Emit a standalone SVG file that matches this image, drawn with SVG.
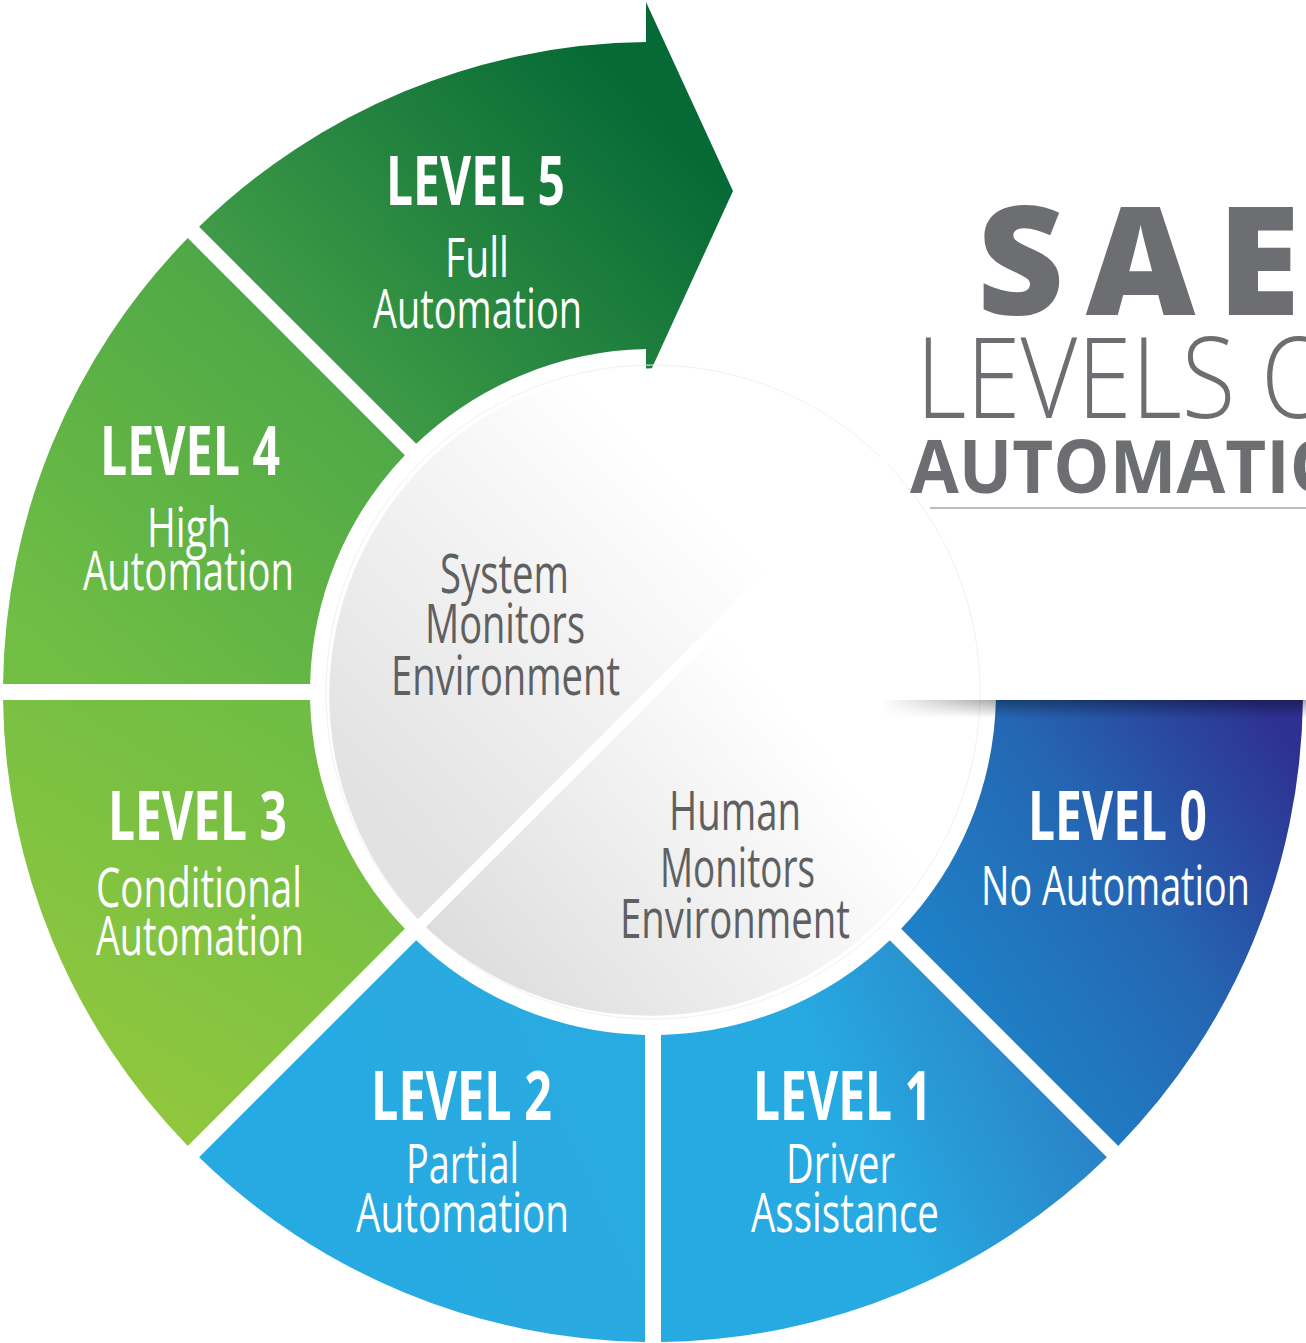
<svg xmlns="http://www.w3.org/2000/svg" width="1306" height="1343" viewBox="0 0 1306 1343">
  <style>
    .lvl { font-family: "Open Sans", "Noto Sans", sans-serif; font-weight: 700; font-size: 68px; fill: #ffffff; }
    .sub { font-family: "Open Sans", "Noto Sans", sans-serif; font-weight: 400; font-size: 54px; fill: #ffffff; }
    .ctr { font-family: "Open Sans", "Noto Sans", sans-serif; font-weight: 400; font-size: 54px; fill: #5f6062; }
    .ttl { font-family: "Open Sans", "Noto Sans", sans-serif; fill: #6d6e71; }
  </style>
  <defs>
    <linearGradient id="g5" gradientUnits="userSpaceOnUse" x1="300" y1="420" x2="640" y2="100">
      <stop offset="0" stop-color="#47a249"/>
      <stop offset="1" stop-color="#066a36"/>
    </linearGradient>
    <linearGradient id="g4" gradientUnits="userSpaceOnUse" x1="350" y1="300" x2="50" y2="650">
      <stop offset="0" stop-color="#4aa547"/>
      <stop offset="1" stop-color="#70be44"/>
    </linearGradient>
    <linearGradient id="g3" gradientUnits="userSpaceOnUse" x1="380" y1="720" x2="150" y2="1100">
      <stop offset="0" stop-color="#6cbc45"/>
      <stop offset="1" stop-color="#8fc73e"/>
    </linearGradient>
    <linearGradient id="g2" gradientUnits="userSpaceOnUse" x1="200" y1="1200" x2="650" y2="1000">
      <stop offset="0" stop-color="#27a9e1"/>
      <stop offset="1" stop-color="#29abe2"/>
    </linearGradient>
    <linearGradient id="g1" gradientUnits="userSpaceOnUse" x1="850" y1="1120" x2="1110" y2="1000">
      <stop offset="0" stop-color="#27a9e1"/>
      <stop offset="1" stop-color="#2b76bd"/>
    </linearGradient>
    <linearGradient id="g0" gradientUnits="userSpaceOnUse" x1="950" y1="1000" x2="1300" y2="760">
      <stop offset="0" stop-color="#1e82c8"/>
      <stop offset="0.5" stop-color="#2566b2"/>
      <stop offset="1" stop-color="#2e3192"/>
    </linearGradient>
    <linearGradient id="gUp" gradientUnits="userSpaceOnUse" x1="330" y1="760" x2="650" y2="450">
      <stop offset="0" stop-color="#e2e2e2"/>
      <stop offset="1" stop-color="#ffffff"/>
    </linearGradient>
    <linearGradient id="gLo" gradientUnits="userSpaceOnUse" x1="470" y1="1000" x2="800" y2="720">
      <stop offset="0" stop-color="#dcdcdc"/>
      <stop offset="1" stop-color="#ffffff"/>
    </linearGradient>
    <linearGradient id="shV" x1="0" y1="0" x2="0" y2="1">
      <stop offset="0" stop-color="#000000" stop-opacity="0.35"/>
      <stop offset="1" stop-color="#000000" stop-opacity="0"/>
    </linearGradient>
    <linearGradient id="shH" gradientUnits="userSpaceOnUse" x1="880" y1="0" x2="1000" y2="0">
      <stop offset="0" stop-color="#ffffff" stop-opacity="0"/>
      <stop offset="1" stop-color="#ffffff" stop-opacity="1"/>
    </linearGradient>
    <mask id="shMask" maskUnits="userSpaceOnUse" x="0" y="0" width="1306" height="1343">
      <rect x="880" y="700" width="426" height="18" fill="url(#shH)"/>
    </mask>
  </defs>

  <rect x="0" y="0" width="1306" height="1343" fill="#ffffff"/>

  <g id="level-5">
    <path d="M199.07,226.76 A650,650 0 0 1 646,42.04 L646,2 L733,191 L646,381 L646,349.07 A343,343 0 0 0 416.18,443.87 Z" fill="url(#g5)"/>
    <text class="lvl" x="386" y="205" textLength="179" lengthAdjust="spacingAndGlyphs">LEVEL 5</text>
    <text class="sub" x="445" y="277" textLength="64" lengthAdjust="spacingAndGlyphs">Full</text>
    <text class="sub" x="373" y="328" textLength="209" lengthAdjust="spacingAndGlyphs">Automation</text>
  </g>

  <g id="level-4">
    <path d="M3.05,684 A650,650 0 0 1 187.76,238.07 L404.87,455.18 A343,343 0 0 0 310.09,684 Z" fill="url(#g4)"/>
    <text class="lvl" x="100" y="475" textLength="180" lengthAdjust="spacingAndGlyphs">LEVEL 4</text>
    <text class="sub" x="147" y="547" textLength="84" lengthAdjust="spacingAndGlyphs">High</text>
    <text class="sub" x="83" y="590" textLength="211" lengthAdjust="spacingAndGlyphs">Automation</text>
  </g>

  <g id="level-3">
    <path d="M187.76,1145.93 A650,650 0 0 1 3.05,700 L310.09,700 A343,343 0 0 0 404.87,928.82 Z" fill="url(#g3)"/>
    <text class="lvl" x="108" y="840" textLength="179" lengthAdjust="spacingAndGlyphs">LEVEL 3</text>
    <text class="sub" x="96" y="907" textLength="206" lengthAdjust="spacingAndGlyphs">Conditional</text>
    <text class="sub" x="96" y="955" textLength="208" lengthAdjust="spacingAndGlyphs">Automation</text>
  </g>

  <g id="level-2">
    <path d="M645,1341.95 A650,650 0 0 1 199.07,1157.24 L416.18,940.13 A343,343 0 0 0 645,1034.91 Z" fill="url(#g2)"/>
    <text class="lvl" x="371" y="1120" textLength="181" lengthAdjust="spacingAndGlyphs">LEVEL 2</text>
    <text class="sub" x="406" y="1183" textLength="113" lengthAdjust="spacingAndGlyphs">Partial</text>
    <text class="sub" x="356" y="1232" textLength="213" lengthAdjust="spacingAndGlyphs">Automation</text>
  </g>

  <g id="level-1">
    <path d="M1106.93,1157.24 A650,650 0 0 1 661,1341.95 L661,1034.91 A343,343 0 0 0 889.82,940.13 Z" fill="url(#g1)"/>
    <text class="lvl" x="753" y="1120" textLength="179" lengthAdjust="spacingAndGlyphs">LEVEL 1</text>
    <text class="sub" x="786" y="1183" textLength="109" lengthAdjust="spacingAndGlyphs">Driver</text>
    <text class="sub" x="751" y="1232" textLength="188" lengthAdjust="spacingAndGlyphs">Assistance</text>
  </g>

  <g id="level-0">
    <path d="M1302.95,700 A650,650 0 0 1 1118.24,1145.93 L901.13,928.82 A343,343 0 0 0 995.91,700 Z" fill="url(#g0)"/>
    <text class="lvl" x="1028" y="840" textLength="179" lengthAdjust="spacingAndGlyphs">LEVEL 0</text>
    <text class="sub" x="981" y="905" textLength="269" lengthAdjust="spacingAndGlyphs">No Automation</text>
  </g>

  <g id="center-system">
    <path d="M421.8,923.2 A327,327 0 0 1 884.2,460.8 Z" fill="url(#gUp)"/>
    <text class="ctr" x="440" y="593" textLength="129" lengthAdjust="spacingAndGlyphs">System</text>
    <text class="ctr" x="425" y="643" textLength="160" lengthAdjust="spacingAndGlyphs">Monitors</text>
    <text class="ctr" x="391" y="695" textLength="229" lengthAdjust="spacingAndGlyphs">Environment</text>
  </g>

  <g id="center-human">
    <path d="M884.2,460.8 A327,327 0 0 1 421.8,923.2 Z" fill="url(#gLo)"/>
    <text class="ctr" x="669" y="830" textLength="132" lengthAdjust="spacingAndGlyphs">Human</text>
    <text class="ctr" x="660" y="887" textLength="155" lengthAdjust="spacingAndGlyphs">Monitors</text>
    <text class="ctr" x="620" y="938" textLength="230" lengthAdjust="spacingAndGlyphs">Environment</text>
  </g>

  <g id="connectors">
    <circle cx="653" cy="692" r="327" fill="none" stroke="#f1f1f1" stroke-width="1"/>
    <line x1="405" y1="940" x2="900" y2="445" stroke="#ffffff" stroke-width="11"/>
  </g>

  <g id="title">
    <rect x="880" y="700" width="426" height="18" fill="url(#shV)" mask="url(#shMask)"/>
    <text class="ttl" x="977" y="315" font-size="151" font-weight="800" textLength="323" lengthAdjust="spacing">SAE</text>
    <text class="ttl" x="916" y="418" font-size="112" font-weight="300" textLength="420" lengthAdjust="spacingAndGlyphs">LEVELS O</text>
    <text class="ttl" x="910" y="493" font-size="74" font-weight="700" textLength="436" lengthAdjust="spacingAndGlyphs">AUTOMATIO</text>
    <line x1="930" y1="508" x2="1306" y2="508" stroke="#bdbdbd" stroke-width="2"/>
  </g>
</svg>
